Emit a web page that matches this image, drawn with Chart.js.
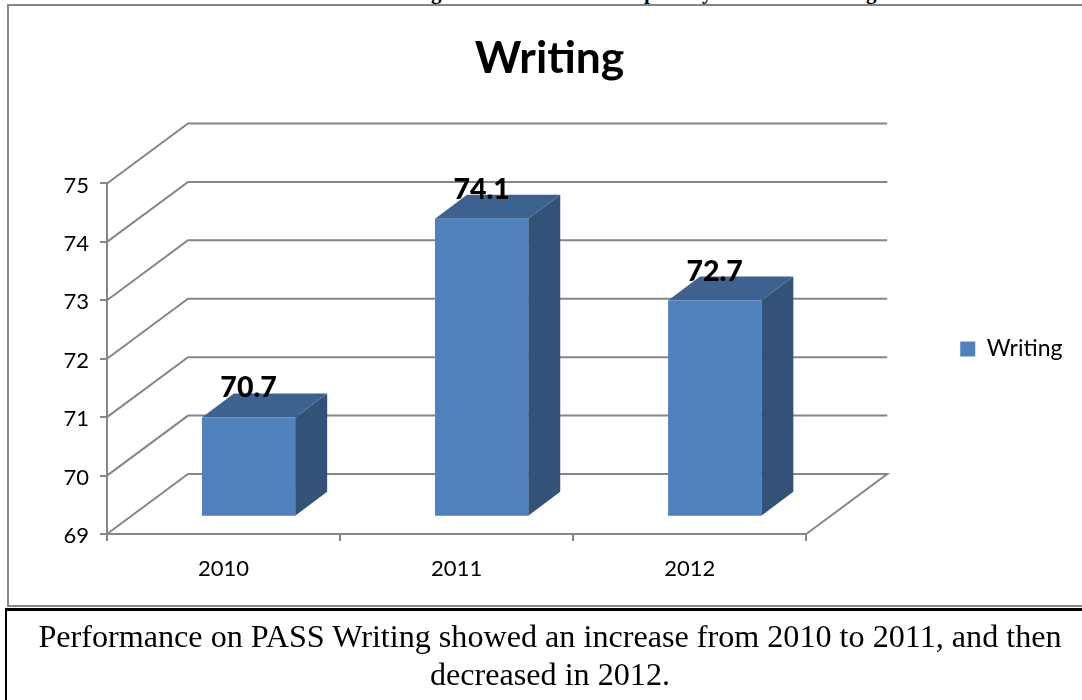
<!DOCTYPE html>
<html lang="en">

<head>
    <meta charset="UTF-8">
    <title>Writing</title>
    <style>
        html, body { margin: 0; padding: 0; background: #fff; overflow: hidden; }
        body { position: relative; width: 1082px; height: 700px; }
        .frame { position: absolute; left: 7px; top: 4px; width: 1090px; height: 599px; border: 2px solid #868686; box-sizing: content-box; }
        .clipped { position: absolute; top: -20px; left: 0; height: 24px; font: bold 21px/24px "Liberation Serif", serif; color: #000; }
        .clipped span { position: absolute; top: 0; }
        .caption { position: absolute; left: 5px; top: 608px; width: 1090px; height: 110px; border: 2px solid #000; border-width: 3px 0 0 2px;
            font: 32.15px/37px "Liberation Serif", serif; color: #000; }
        .caption div { position: absolute; left: 0; width: 1086px; text-align: center; white-space: nowrap; }
        canvas { position: absolute; left: 0; top: 0; }
    </style>
    <script src="https://cdn.jsdelivr.net/npm/chart.js@4"></script>
</head>

<body>
    <div class="clipped"><span style="left:431px">g</span><span style="left:644px">p</span><span style="left:702px">y</span><span style="left:866px">g</span></div>
    <div class="frame"></div>
    <canvas id="chart" width="1082" height="700"></canvas>
    <div class="caption">
        <div style="top:7px">Performance on PASS Writing showed an increase from 2010 to 2011, and then</div>
        <div style="top:45px">decreased in 2012.</div>
    </div>

    <script>
        // Data
        const categories = ["2010", "2011", "2012"];
        const writing = [70.7, 74.1, 72.7];
        const yTicks = [69, 70, 71, 72, 73, 74, 75];

        // Colours
        const gridColor = "#868686";
        const frontColor = "#4F81BD";
        const topColor = "#3D628F";
        const sideColor = "#325278";

        // 3D look: how far the back wall sits from the axes, where the bars stand on the floor
        const wallX = 81, wallY = -60;
        const barX = 25, barY = -17.3;
        const depthX = 32, depthY = -24;

        // Back wall and floor, from the y scale ticks
        const walls = {
            id: "walls",
            beforeDatasetsDraw(chart) {
                const ctx = chart.ctx, y = chart.scales.y, a = chart.chartArea;
                ctx.save();
                ctx.strokeStyle = gridColor;
                ctx.lineWidth = 2;
                yTicks.forEach((t) => {
                    const py = y.getPixelForValue(t);
                    ctx.beginPath();
                    ctx.moveTo(a.left, py);
                    ctx.lineTo(a.left + wallX, py + wallY);
                    ctx.lineTo(a.right + wallX, py + wallY);
                    if (t === yTicks[0]) ctx.lineTo(a.right, py);
                    ctx.stroke();
                });
                ctx.restore();
            }
        };

        // Moves the library's bars onto the floor, adds the top and side faces and the value labels
        const bars3d = {
            id: "bars3d",
            beforeDatasetDraw(chart, args) {
                const ctx = chart.ctx;
                ctx.save();
                ctx.translate(barX, barY);
                args.meta.data.forEach((bar) => {
                    const l = bar.x - bar.width / 2, r = bar.x + bar.width / 2;
                    ctx.fillStyle = sideColor;
                    ctx.beginPath();
                    ctx.moveTo(r, bar.y);
                    ctx.lineTo(r + depthX, bar.y + depthY);
                    ctx.lineTo(r + depthX, bar.base + depthY);
                    ctx.lineTo(r, bar.base);
                    ctx.fill();
                    ctx.fillStyle = topColor;
                    ctx.beginPath();
                    ctx.moveTo(l, bar.y);
                    ctx.lineTo(l + depthX, bar.y + depthY);
                    ctx.lineTo(r + depthX, bar.y + depthY);
                    ctx.lineTo(r, bar.y);
                    ctx.fill();
                });
            },
            afterDatasetDraw(chart, args) {
                const ctx = chart.ctx;
                ctx.restore();
                ctx.save();
                ctx.fillStyle = "#000";
                ctx.font = "900 28.5px Lato";
                ctx.textAlign = "center";
                ctx.textBaseline = "alphabetic";
                args.meta.data.forEach((bar, i) => {
                    ctx.fillText(writing[i].toFixed(1), bar.x + barX, bar.y + barY - 20);
                });
                ctx.restore();
            }
        };

        const ctx = document.getElementById("chart").getContext("2d");
        const chart = new Chart(ctx, {
            type: "bar",
            data: {
                labels: categories,
                datasets: [{
                    label: "Writing",
                    data: writing,
                    base: yTicks[0],
                    backgroundColor: frontColor,
                    categoryPercentage: 1,
                    barPercentage: 0.4,
                    clip: false
                }]
            },
            options: {
                responsive: false,
                animation: false,
                layout: { padding: { left: 36, right: 19, top: 10, bottom: 116 } },
                plugins: {
                    title: {
                        display: true,
                        text: "Writing",
                        color: "#000",
                        font: { family: "Lato", size: 44.4, weight: "bold" },
                        padding: { top: 22, bottom: 98.2 }
                    },
                    legend: {
                        position: "right",
                        align: "start",
                        fullSize: false,
                        labels: {
                            color: "#000",
                            font: { family: "Lato", size: 23 },
                            boxWidth: 15,
                            boxHeight: 15,
                            padding: 154
                        }
                    },
                    tooltip: { enabled: false }
                },
                scales: {
                    x: {
                        afterFit(s) { s.height = 50; },
                        border: { color: gridColor, width: 2 },
                        grid: { color: gridColor, lineWidth: 2, tickLength: 7, drawOnChartArea: false },
                        ticks: { color: "#000", font: { family: "Lato", size: 22 }, padding: 15 }
                    },
                    y: {
                        min: yTicks[0],
                        max: yTicks[yTicks.length - 1],
                        afterFit(s) { s.width = 71; },
                        border: { color: gridColor, width: 2 },
                        grid: { color: gridColor, lineWidth: 2, tickLength: 7, drawOnChartArea: false },
                        ticks: { color: "#000", font: { family: "Lato", size: 22 }, stepSize: 1, padding: 11, labelOffset: 2 }
                    }
                }
            },
            plugins: [walls, bars3d]
        });
    </script>
</body>

</html>
